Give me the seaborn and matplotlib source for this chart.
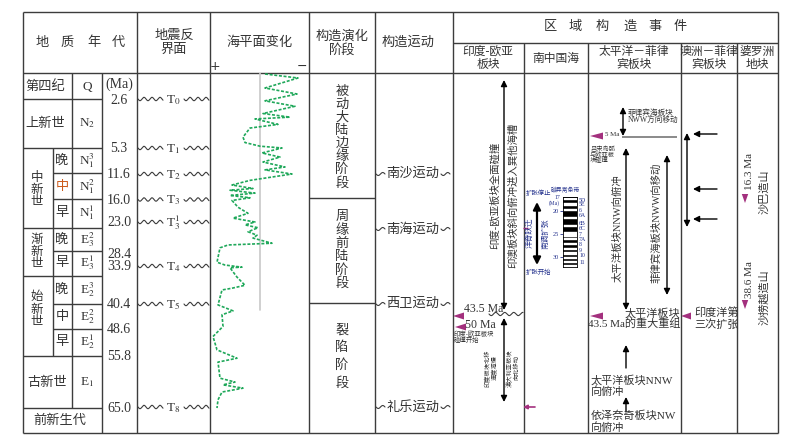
import numpy as np
import pandas as pd
import matplotlib
matplotlib.use('Agg')
import matplotlib.pyplot as plt
import seaborn as sns
from matplotlib.patches import Polygon
from matplotlib.transforms import blended_transform_factory

sns.set_style('white')
plt.rcParams['font.family'] = ['Liberation Serif', 'Noto Sans CJK SC', 'DejaVu Sans']
plt.rcParams['mathtext.fontset'] = 'stix'

# ---------------- data ----------------
age_ticks = [2.6, 5.3, 11.6, 16.0, 23.0, 28.4, 33.9, 40.4, 48.6, 55.8, 65.0]
reflector_names = ['T$_0$', 'T$_1$', 'T$_2$', 'T$_3$', 'T$_3^1$', 'T$_4$', 'T$_5$', 'T$_8$']
reflector_ages = [2.6, 5.3, 11.6, 16.0, 23.0, 33.9, 40.4, 65.0]
movement_names = ['南沙运动', '南海运动', '西卫运动', '礼乐运动']
movement_ages = [11.6, 24.2, 40.4, 65.0]
sea_age = [0.1, 0.5, 1.5, 2.1, 2.7, 3.0, 3.4, 3.6, 3.7, 4.0, 4.2, 4.7, 5.0, 5.2, 5.3,
           6.5, 7.5, 8.7, 9.9, 10.6, 11.6, 12.7, 13.5, 14.1, 14.4, 14.9, 15.3, 15.7,
           16.3, 18.4, 20.3, 21.8, 23.0, 23.5, 24.0, 24.7, 25.3, 25.8, 26.7, 27.0,
           27.5, 32.3, 33.5, 34.1, 34.2, 35.8, 37.2, 37.7, 38.0, 40.7, 42.7, 44.0,
           47.9, 50.7, 54.2, 56.2, 56.9, 59.8, 60.5, 61.0, 61.6, 62.3, 63.7, 65.2]
sea_level = [-5, -38, -5, -37, -5, -35, -3, -30, 5, -18, 10, 17, 15, 0, -22,
             -2, -20, -3, -25, -5, -32, 10, 28, 7, 30, 5, 30, 10,
             28, 22, 12, 27, 5, 15, 2, 12, 3, 7, -12, 32,
             40, 43, 35, 18, 30, 23, 15, 28, 38, 42, 27, 38,
             37, 47, 43, 23, 42, 40, 25, 37, 17, 38, 42, 43]
chron_labels = ['5D', '5E', '6', '6A', '6B', '6C', '7', '7A', '8', '9', '10', '11']
chron_ages = [17.8, 18.7, 20.0, 21.1, 22.8, 23.9, 25.2, 26.3, 27.4, 28.7, 29.8, 31.3]
normal_top = [17.2, 18.4, 19.6, 21.3, 23.0, 24.6, 26.0, 27.0, 28.0, 29.0, 30.1, 31.0, 31.8]
normal_bottom = [17.5, 18.7, 19.9, 21.6, 23.3, 25.4, 26.2, 27.2, 28.2, 29.3, 30.3, 31.2, 32.0]
mag_ticks = [20, 25, 30]

# ---------------- layout ----------------
W, H = 793, 440
LC = '#3c3c3c'
TC = '#333333'
BLUE = '#22308c'
MAG = '#a3307e'
GREEN = '#1fa85a'
map_ages = [0, 2.6, 5.3, 11.6, 16.0, 23.0, 28.4, 33.9, 40.4, 48.6, 55.8, 65.0, 70.0]
map_rows = [73, 99, 148, 174, 199.5, 222, 253, 266, 304, 328.5, 356, 407, 433]


def row(a):
    return float(np.interp(a, map_ages, map_rows))


fig = plt.figure(figsize=(W / 100, H / 100), dpi=100)
ax = fig.add_axes([0, 0, 1, 1])
ax.set_xlim(0, W)
ax.set_ylim(H, 0)
ax.axis('off')


def hl(y, x0, x1, lw=1.0, c=LC):
    ax.plot([x0, x1], [y, y], color=c, lw=lw, solid_capstyle='butt')


def vl(x, y0, y1, lw=1.0, c=LC):
    ax.plot([x, x], [y0, y1], color=c, lw=lw, solid_capstyle='butt')


def wave(x0, x1, y, amp=1.7, period=8.0, lw=0.8):
    xs = np.linspace(x0, x1, 200)
    ax.plot(xs, y + amp * np.sin(2 * np.pi * (xs - x0) / period), color=LC, lw=lw)


def t(x, y, s, size=9.5, ha='center', va='center', color=TC, **kw):
    ax.text(x, y, s, fontsize=size, ha=ha, va=va, color=color, **kw)


def stack(x, y0, s, step, **kw):
    for i, ch in enumerate(s):
        t(x, y0 + i * step, ch, **kw)


def lines(x, y0, items, step, **kw):
    for i, s in enumerate(items):
        t(x, y0 + i * step, s, **kw)


def arrow(x0, y0, x1, y1, style='-|>', lw=1.0, ms=9):
    ax.annotate('', xy=(x1, y1), xytext=(x0, y0),
                arrowprops=dict(arrowstyle=style, color='black', lw=lw,
                                shrinkA=0, shrinkB=0, mutation_scale=ms))


def tri_left(xtip, y, w=11, h=3.5):
    ax.add_patch(Polygon([(xtip, y), (xtip + w, y - h), (xtip + w, y + h)],
                         closed=True, color=MAG, lw=0))


def tri_down(x, ytip, w=3.2, h=9):
    ax.add_patch(Polygon([(x, ytip), (x - w, ytip - h), (x + w, ytip - h)],
                         closed=True, color=MAG, lw=0))

# ---- frame ----
top, hdr, bot = 12, 73, 433
hl(top, 23, 778)
hl(hdr, 23, 778)
hl(bot, 23, 778)
hl(43, 453, 778)
for x in [23, 137, 210, 309, 375, 453, 778]:
    vl(x, top, bot)
for x in [524, 588, 681, 737]:
    vl(x, 43, bot)
vl(102, hdr, bot)
vl(72, hdr, 408)
vl(53, 148, 356)
for y in [99, 148, 228, 276, 356, 408]:
    hl(y, 23, 102)
for y in [173, 199, 251, 304, 329]:
    hl(y, 53, 102)
hl(198, 309, 375)
hl(303, 309, 375)

# ---- headers ----
for ch, x in zip('地质年代', [42, 67, 94, 118]):
    t(x, 43, ch)
lines(174, 36, ['地震反', '界面'], 14)
t(260, 43, '海平面变化')
lines(342, 37, ['构造演化', '阶段'], 13.5)
t(408, 43, '构造运动')
t(215, 67, '+', size=9, family='DejaVu Sans')
t(302, 66, '−', size=9, family='DejaVu Sans')
for ch, x in zip('区域构造事件', [550, 575, 602, 630, 655, 680]):
    t(x, 27, ch)
lines(488, 52, ['印度-欧亚', '板块'], 13, size=8.5)
t(556, 59, '南中国海', size=8.5)
lines(634, 52, ['太平洋－菲律', '宾板块'], 13, size=8.5)
lines(709, 52, ['澳洲－菲律', '宾板块'], 13, size=8.5)
lines(757, 52, ['婆罗洲', '地块'], 13, size=8.5)

# ---- geologic time ----
t(45, 87, '第四纪')
t(87, 87, 'Q')
t(45, 124, '上新世')
t(87, 123, 'N$_2$')
stack(37, 178, '中新世', 12, size=9)
t(62, 161, '晚'); t(87, 161, 'N$_1^3$')
t(62, 187, '中', color='#cc5a1a'); t(87, 187, 'N$_1^2$')
t(62, 213, '早'); t(87, 213, 'N$_1^1$')
stack(37, 240, '渐新世', 12, size=9)
t(62, 240, '晚'); t(87, 240, 'E$_3^2$')
t(62, 263, '早'); t(87, 263, 'E$_3^1$')
stack(37, 297, '始新世', 12.5, size=9)
t(62, 290, '晚'); t(87, 290, 'E$_2^3$')
t(62, 317, '中'); t(87, 317, 'E$_2^2$')
t(62, 342, '早'); t(87, 342, 'E$_2^1$')
t(47, 383, '古新世')
t(87, 382, 'E$_1$')
t(60, 421, '前新生代')
t(119, 84, '(Ma)', size=10)
for a in age_ticks:
    t(119, row(a) + 1, f'{a:.1f}', size=10)

# ---- seismic reflectors ----
for name, a in zip(reflector_names, reflector_ages):
    y = row(a)
    wave(138, 163, y)
    wave(184, 209, y)
    t(173, y + 1, name, size=9.5)

# ---- sea level curve ----
sea = pd.DataFrame({'level': sea_level, 'age': sea_age})
axs = fig.add_axes([210 / W, 1 - 433 / H, 99 / W, 360 / H])
axs.set_yscale('function', functions=(lambda a: np.interp(a, map_ages, map_rows),
                                        lambda r: np.interp(r, map_rows, map_ages)))
axs.plot([0, 0], [0, 42.3], color='#c8c8c8', lw=1.2)
sns.lineplot(data=sea, x='level', y='age', sort=False, estimator=None, orient='y',
             ax=axs, color=GREEN, linewidth=1.2, linestyle=(0, (1.8, 1.0)))
axs.set_xlim(50, -49)
axs.set_ylim(70, 0)
axs.axis('off')

# ---- tectonic stages ----
stack(342, 92, '被动大陆边缘阶段', 13, size=9.5)
stack(342, 217, '周缘前陆阶段', 13.3, size=9.5)
stack(342, 330, '裂陷阶段', 17.7, size=9.5)

# ---- tectonic movements ----
for name, a in zip(movement_names, movement_ages):
    y = row(a) if name != '南海运动' else 229
    wave(376, 385, y, amp=1.5, period=9)
    wave(441, 450, y, amp=1.5, period=9)
    t(413, y, name)

# ---- India-Eurasia ----
arrow(504, 310, 504, 80, style='<|-|>')
t(495, 195, '印度-欧亚板块全面碰撞', size=7.5, rotation=90)
t(513, 195, '印澳板块斜向俯冲进入巽他海槽', size=7.5, rotation=90)
wave(489, 523, 314, amp=1.6, period=9)
tri_left(453, 316)
t(464, 309, '43.5 Ma', size=8.5, ha='left')
arrow(504, 318, 504, 402, style='<|-|>')
tri_left(455, 327)
t(465, 325, '50 Ma', size=8.5, ha='left')
lines(454, 334, ['印度-欧亚板块', '碰撞开始'], 5.5, size=4.6, ha='left')
t(491, 368, '印度板块北移\n速度减慢', size=4.5, rotation=90, linespacing=1.0)
t(513, 368, '澳大利亚板块\n向北移动', size=4.5, rotation=90, linespacing=1.0)
ax.annotate('', xy=(523, 407), xytext=(535, 407),
            arrowprops=dict(arrowstyle='-|>', color=MAG, lw=1.2, shrinkA=0, shrinkB=0,
                            mutation_scale=6))
hl(228, 523, 528, lw=1.0, c=MAG)

# ---- South China Sea ----
t(538, 193, '扩张停止', size=4.6, color=BLUE)
t(538, 272, '扩张开始', size=4.6, color=BLUE)
arrow(537, 265, 537, 202, style='<|-|>', lw=1.6, ms=11)
t(530, 233, '洋脊跃迁', size=5.5, rotation=90, color=BLUE)
t(545, 234, '南调扩张', size=5.5, rotation=90, color=BLUE)
t(566, 190, '磁异常条带', size=4.2, color=BLUE)

axm = fig.add_axes([563 / W, 1 - 267 / H, 14 / W, 70 / H])
axm.set_facecolor('black')
axm.barh(y=normal_top, width=1, height=np.subtract(normal_bottom, normal_top),
         left=0, align='edge', color='white')
axm.set_xlim(0, 1)
axm.set_ylim(32.2, 17)
axm.set_xticks([])
axm.set_yticks(mag_ticks)
axm.set_yticklabels([str(v) for v in mag_ticks], fontsize=4.5, color=BLUE)
axm.tick_params(axis='y', length=2, width=0.6, pad=1, colors=BLUE, left=True)
for s in axm.spines.values():
    s.set_color('black')
    s.set_linewidth(0.6)
tr = blended_transform_factory(axm.transAxes, axm.transData)
for lab, a in zip(chron_labels, chron_ages):
    axm.text(1.15, a, lab, transform=tr, fontsize=4.2, color=BLUE, ha='left', va='center')
axm.text(-0.2, 17.2, '17', transform=tr, fontsize=4.2, color=BLUE, ha='right', va='center')
axm.text(-0.2, 18.4, '(Ma)', transform=tr, fontsize=4.0, color=BLUE, ha='right', va='center')

# ---- Pacific-Philippine ----
arrow(623, 136, 623, 107, style='<|-|>')
lines(628, 113, ['菲律宾海板块', 'NWW方向移动'], 8, size=5.5, ha='left')
hl(137, 622, 677, lw=1.4, c='#8a8a8a')
tri_left(590, 136, w=13)
t(605, 135, '5 Ma', size=5, ha='left')
lines(590, 149, ['吕宋岛弧', '与欧亚板', '块碰撞'], 5.5, size=4.5, ha='left')
arrow(626, 310, 626, 148, style='<|-|>')
t(618, 228, '太平洋板块NNW向俯冲', size=7.5, rotation=90)
arrow(667, 295, 667, 155, style='<|-|>')
t(656, 223, '菲律宾海板块NWW向移动', size=7.5, rotation=90)
tri_left(590, 316, w=13)
t(680, 313, '太平洋板块', size=8, ha='right')
t(680, 324, '43.5 Ma的重大重组', size=8, ha='right')
arrow(626, 368, 626, 345)
lines(591, 380, ['太平洋板块NNW', '向俯冲'], 12, size=8, ha='left')
arrow(626, 412, 626, 397)
lines(591, 416, ['依泽奈奇板块NW', '向俯冲'], 12, size=8, ha='left')

# ---- Australia-Philippine ----
for y in [134, 189, 219]:
    arrow(717, y, 693, y)
arrow(687, 227, 687, 133, style='<|-|>')
tri_left(681, 316, w=10)
lines(694, 313, ['印度洋第', '三次扩张'], 11.5, size=8, ha='left')

# ---- Borneo ----
tri_down(745, 203)
t(749, 172, '16.3 Ma', size=8, rotation=90)
t(764, 192, '沙巴造山', size=8, rotation=90)
tri_down(745, 309)
t(749, 280, '38.6 Ma', size=8, rotation=90)
t(764, 297, '沙捞越造山', size=8, rotation=90)

fig.savefig('out.png', dpi=100, facecolor='white')
